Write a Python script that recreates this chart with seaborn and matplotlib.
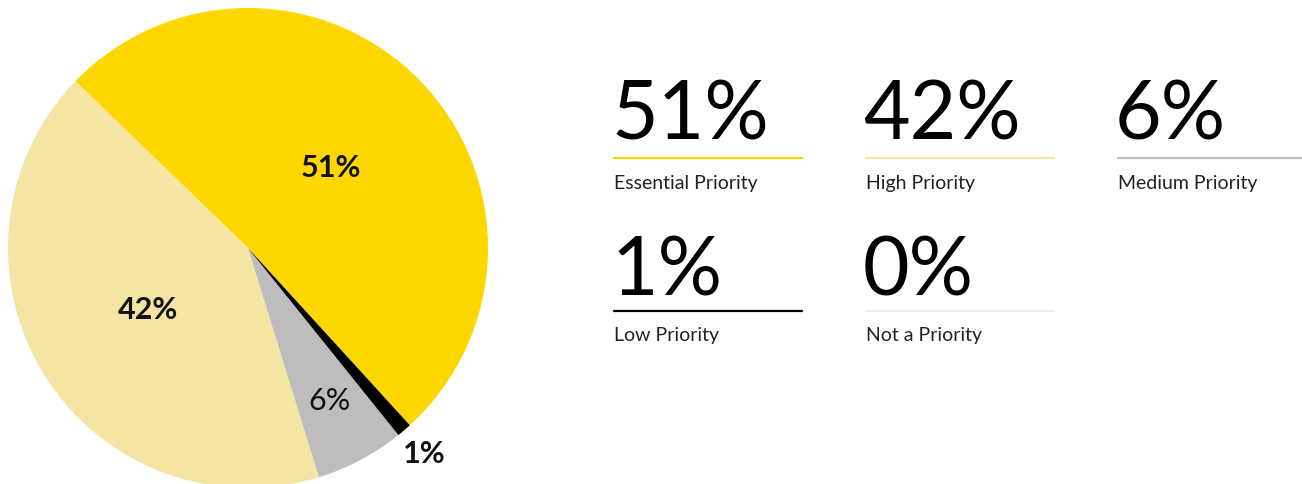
import matplotlib
matplotlib.use("Agg")
import matplotlib.pyplot as plt
import seaborn as sns
import numpy as np

sns.set_theme(style="white")
plt.rcParams["font.family"] = ["Lato", "DejaVu Sans"]

# Survey response shares
categories = ["Essential Priority", "High Priority", "Medium Priority", "Low Priority", "Not a Priority"]
shares = [51, 42, 6, 1, 0]
colors = ["#FFD700", "#F5E5A4", "#BDBDBD", "#000000", "#EBEBEB"]

W, H = 1302, 484
fig = plt.figure(figsize=(W / 100, H / 100), dpi=100)
fig.patch.set_facecolor("white")

# Pie chart (left): first slice ends at the upper-left edge, slices run counter-clockwise
cx, cy, r = 248, 248, 240
ax = fig.add_axes([(cx - r) / W, (H - cy - r) / H, 2 * r / W, 2 * r / H])
pie_vals = [v for v in shares if v > 0]
pie_cols = [c for v, c in zip(shares, colors) if v > 0]
wedges, _ = ax.pie(pie_vals, colors=pie_cols, startangle=136 - 360 * pie_vals[0] / 100,
                   counterclock=True, radius=1, wedgeprops=dict(linewidth=0))
ax.set_xlim(-1, 1)
ax.set_ylim(-1, 1)
ax.set_aspect("equal")
ax.axis("off")

label_dist = [0.48, 0.49, 0.72, 1.13]
label_weight = ["bold", "bold", "normal", "bold"]
for w, v, d, fw in zip(wedges, pie_vals, label_dist, label_weight):
    mid = np.deg2rad((w.theta1 + w.theta2) / 2)
    ax.text(d * np.cos(mid), d * np.sin(mid), f"{v}%", ha="center", va="center",
            fontsize=22, fontweight=fw, color="#111111", clip_on=False)

# Summary tiles (right)
col_x = [614, 866, 1118]
row_base = [140, 296]
row_line = [158, 311]
row_label = [183, 336]
line_len = 188

def px(x, y):
    return x / W, 1 - y / H

for i, (cat, v, c) in enumerate(zip(categories, shares, colors)):
    row, col = divmod(i, 3)
    x = col_x[col]
    fig.text(*px(x - 3, row_base[row]), f"{v}%", ha="left", va="baseline",
             fontsize=58, fontweight="normal", color="#000000")
    x1 = x + line_len if col < 2 else W
    fig.add_artist(plt.Line2D([x / W, x1 / W], [1 - row_line[row] / H] * 2,
                              color=c, linewidth=1.6, transform=fig.transFigure))
    fig.text(*px(x, row_label[row]), cat, ha="left", va="center",
             fontsize=14, color="#222222")

fig.savefig("out.png", dpi=100, facecolor="white")
